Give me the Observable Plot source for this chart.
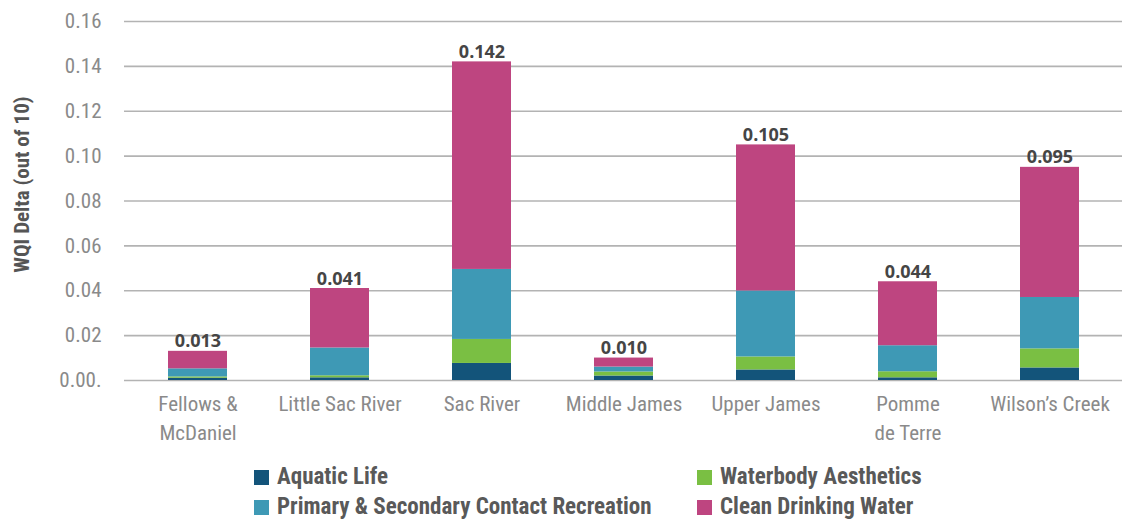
<!DOCTYPE html>
<html>
<head>
<meta charset="utf-8">
<script src="https://cdn.jsdelivr.net/npm/d3@7"></script>
<script src="https://cdn.jsdelivr.net/npm/@observablehq/plot@0.6"></script>
<style>
  body { margin: 0; background: #fff; font-family: "Roboto Condensed", "Liberation Sans Narrow", Roboto, sans-serif; }
  #wrap { position: relative; width: 1123px; height: 521px; }
  #legend { position: absolute; left: 254px; top: 465px; display: grid; grid-template-columns: 443px 300px; row-gap: 6px; }
  .item { display: flex; align-items: center; font-weight: 700; font-size: 23px; color: #595959; white-space: nowrap; line-height: 24px; }
  .sw { width: 15px; height: 15px; margin-right: 8px; display: inline-block; }
</style>
</head>
<body>
<div id="wrap"><div id="chart"></div><div id="legend"></div></div>
<script>
const watersheds = ["Fellows &\nMcDaniel", "Little Sac River", "Sac River", "Middle James", "Upper James", "Pomme\nde Terre", "Wilson’s Creek"];
const components = ["Aquatic Life", "Waterbody Aesthetics", "Primary & Secondary Contact Recreation", "Clean Drinking Water"];
const colors = ["#13547a", "#7abf43", "#3e99b5", "#be4580"];
const aquaticLife =   [0.0010, 0.0012, 0.0076, 0.0020, 0.0047, 0.0012, 0.0056];
const aesthetics =    [0.0006, 0.0009, 0.0107, 0.0018, 0.0058, 0.0027, 0.0085];
const recreation =    [0.0036, 0.0124, 0.0312, 0.0022, 0.0294, 0.0116, 0.0229];
const drinkingWater = [0.0078, 0.0265, 0.0925, 0.0040, 0.0651, 0.0285, 0.0580];
const totalLabels = ["0.013", "0.041", "0.142", "0.010", "0.105", "0.044", "0.095"];
const yTicks = [0, 0.02, 0.04, 0.06, 0.08, 0.10, 0.12, 0.14, 0.16];

const series = [aquaticLife, aesthetics, recreation, drinkingWater];
const rows = [];
watersheds.forEach((w, i) => series.forEach((s, j) => rows.push({watershed: w, component: components[j], value: s[i]})));
const totals = watersheds.map((w, i) => ({watershed: w, total: d3.sum(series, s => s[i]), label: totalLabels[i]}));

const narrow = "'Roboto Condensed', 'Liberation Sans Narrow', Roboto, sans-serif";

const chart = Plot.plot({
  width: 1123,
  height: 455,
  marginTop: 21,
  marginBottom: 75,
  marginLeft: 124,
  marginRight: 1,
  x: {domain: watersheds, paddingInner: 0.586, paddingOuter: 0.293, axis: null},
  y: {domain: [0, 0.16], axis: null},
  color: {domain: components, range: colors},
  style: {fontFamily: narrow},
  marks: [
    Plot.ruleY(yTicks, {stroke: "#b3b3b3", strokeWidth: 1.6}),
    Plot.barY(rows, {x: "watershed", y: "value", fill: "component", order: components}),
    Plot.axisY({ticks: yTicks, tickSize: 0, tickPadding: 23, fontSize: 21, fill: "#8a8a8a",
      tickFormat: d => d === 0 ? "0.00." : d.toFixed(2), label: null}),
    Plot.text(watersheds, {x: d => d, y: () => 0, text: d => d, dy: 10, lineAnchor: "top",
      fontSize: 21, fill: "#8a8a8a", lineHeight: 1.38}),
    Plot.text(totals, {x: "watershed", y: "total", text: "label", dy: -4, lineAnchor: "bottom",
      fontSize: 18, fontWeight: 700, fill: "#454545", fontFamily: "'Open Sans', sans-serif", letterSpacing: 1.5}),
    Plot.text(["WQI Delta (out of 10)"], {frameAnchor: "left", y: () => 0.0873, dx: -102, rotate: -90,
      textAnchor: "middle", fontSize: 21, fontWeight: 700, fill: "#555"})
  ]
});
document.getElementById("chart").append(chart);

const legend = document.getElementById("legend");
components.forEach((c, j) => {
  const it = document.createElement("div");
  it.className = "item";
  const sw = document.createElement("span");
  sw.className = "sw";
  sw.style.background = colors[j];
  it.append(sw, document.createTextNode(c));
  legend.append(it);
});
</script>
</body>
</html>
